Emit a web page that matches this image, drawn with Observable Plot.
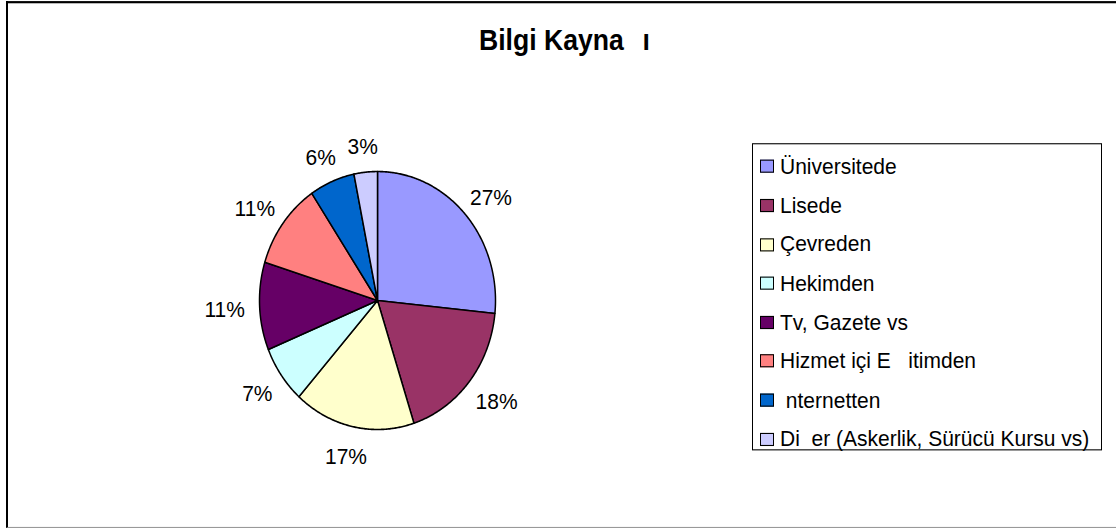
<!DOCTYPE html>
<html>
<head>
<meta charset="utf-8">
<script src="https://cdn.jsdelivr.net/npm/d3@7"></script>
<script src="https://cdn.jsdelivr.net/npm/@observablehq/plot@0.6"></script>
<style>
  html, body { margin: 0; padding: 0; background: #fff; overflow: hidden; width: 1116px; height: 528px; }
  #wrap { position: relative; width: 1116px; height: 528px; overflow: hidden; }
  #stage { position: absolute; left: 0; top: 0; width: 1116px; height: 483px; transform: scale(1, 1.0932); transform-origin: 0 0;
           font-family: "Liberation Sans", Arial, sans-serif; color: #000; }
  #frame { position: absolute; left: 6px; top: 1px; width: 1120px; height: 478.5px;
           border-left: 2px solid #000; border-top: 2px solid #000; border-bottom: 1px solid #999; }
  #title { position: absolute; left: 479px; top: 24.2px; font-size: 26.6px; font-weight: bold; line-height: 1; white-space: pre; }
  #chart { position: absolute; left: 0; top: 0; }
  #legend { position: absolute; left: 752px; top: 130.8px; width: 350px; height: 281px; border: 1px solid #000; box-sizing: border-box; }
  .sw { position: absolute; left: 7px; width: 14px; height: 12px; border: 1px solid #000; box-sizing: border-box; }
  .lb { position: absolute; left: 27px; font-size: 21px; line-height: 1; white-space: pre; }
</style>
</head>
<body>
<div id="wrap">
<div id="stage">
  <div id="frame"></div>
  <div id="title"></div>
  <div id="chart"></div>
  <div id="legend"></div>
</div>
</div>
<script>
const titleText = "Bilgi Kayna\u2002\u2009ı";
const categories = [
  "Üniversitede",
  "Lisede",
  "Çevreden",
  "Hekimden",
  "Tv, Gazete vs",
  "Hizmet içi E   itimden",
  " nternetten",
  "Di  er (Askerlik, Sürücü Kursu vs)"
];
const values = [26.6, 18.4, 16.6, 7.2, 11.0, 10.8, 6.2, 3.2];
const colors = ["#9999FF", "#993366", "#FFFFCC", "#CCFFFF", "#660066", "#FF8080", "#0066CC", "#CCCCFF"];

document.getElementById("title").textContent = titleText;

const arcs = d3.pie().sort(null).value(d => d)(values);
const step = Math.PI / 360;
const slices = arcs.map((a, i) => {
  const pts = [{x: 0, y: 0}];
  for (let t = a.startAngle; t < a.endAngle; t += step) pts.push({x: Math.sin(t), y: Math.cos(t)});
  pts.push({x: Math.sin(a.endAngle), y: Math.cos(a.endAngle)});
  pts.push({x: 0, y: 0});
  return {pts, color: colors[i]};
});
const R = 118, cy = 274.4;
const labels = arcs.map((a, i) => {
  const m = (a.startAngle + a.endAngle) / 2;
  const text = Math.round(values[i]) + "%";
  const w = (text.length - 1) * 11.68 + 18.67;
  return {x: Math.sin(m) * (132 + w / 2) / R, y: (Math.cos(m) * 143.7 - 2) / R, text};
});

const plot = Plot.plot({
  width: 1116,
  height: 483,
  margin: 0,
  style: {background: "transparent", fontFamily: "'Liberation Sans', Arial, sans-serif", overflow: "visible"},
  x: {domain: [-1, 1], range: [377 - R, 377 + R], axis: null},
  y: {domain: [-1, 1], range: [cy + R, cy - R], axis: null},
  marks: [
    ...slices.map(s => Plot.line(s.pts, {x: "x", y: "y", fill: s.color, stroke: "#000", strokeWidth: 1.5, strokeLinejoin: "round"})),
    Plot.text(labels, {x: "x", y: "y", text: "text", fontSize: 21, fill: "#000", textAnchor: "middle", lineAnchor: "middle"})
  ]
});
document.getElementById("chart").appendChild(plot);

const legend = document.getElementById("legend");
categories.forEach((c, i) => {
  const center = 151.4 + i * 35.6 - 130.8;
  const sw = document.createElement("div");
  sw.className = "sw";
  sw.style.top = (center - 6) + "px";
  sw.style.background = colors[i];
  const lb = document.createElement("div");
  lb.className = "lb";
  lb.style.top = (center - 11.2) + "px";
  lb.textContent = c;
  legend.appendChild(sw);
  legend.appendChild(lb);
});
</script>
</body>
</html>
